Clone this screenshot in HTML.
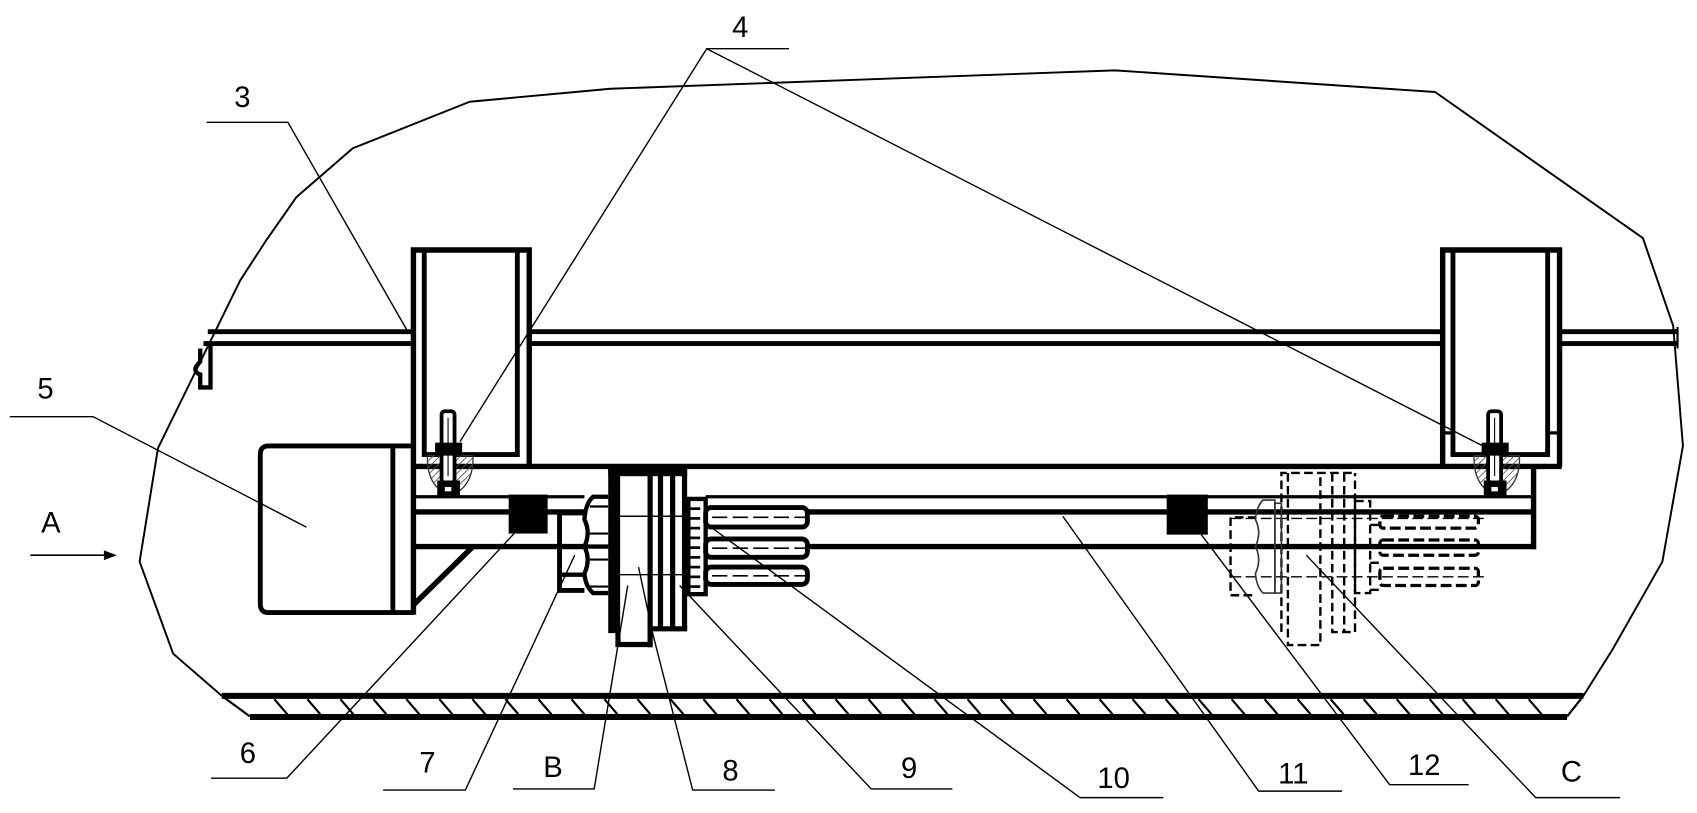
<!DOCTYPE html>
<html>
<head>
<meta charset="utf-8">
<style>
html,body{margin:0;padding:0;background:#fff;}
svg{display:block;}
text{font-family:"Liberation Sans","DejaVu Sans",sans-serif;font-size:27px;fill:#000;text-anchor:middle;}
</style>
</head>
<body>
<svg width="1697" height="813" viewBox="0 0 1568 751.2" preserveAspectRatio="none" xmlns="http://www.w3.org/2000/svg">
<defs>
<pattern id="hp" width="4.5" height="4.5" patternUnits="userSpaceOnUse" patternTransform="rotate(45)">
<line x1="0" y1="0" x2="0" y2="4.5" stroke="#555" stroke-width="1.6"/>
</pattern>
<g id="bolt">
<path d="M395 421 H437 Q438 450 416 458 Q394 450 395 421 Z" fill="url(#hp)" stroke="#333" stroke-width="1.2"/>
<rect x="408" y="380" width="12" height="66" rx="3" fill="#fff" stroke="#000" stroke-width="3.5"/>
<line x1="414" y1="386" x2="414" y2="440" stroke="#000" stroke-width="1"/>
<rect x="402" y="409" width="25" height="12" fill="#000"/>
<rect x="404" y="444" width="21" height="14" fill="#000"/>
<rect x="411" y="450" width="6" height="4" fill="#fff"/>
</g>
</defs>

<!-- outer blob -->
<polyline fill="none" stroke="#000" stroke-width="1.8" stroke-linejoin="round"
 points="205,643 160,604 129,519 146,414 222,259 246,222 274,182 326,137 434,94 564,82 1030,65 1326,85 1518,220 1546,301 1555,412 1536,519 1490,600 1463,643"/>

<g fill="none" stroke="#000">
<!-- top beam -->
<g stroke-width="4.5">
<line x1="192" y1="306.5" x2="382" y2="306.5"/>
<line x1="188" y1="317.5" x2="382" y2="317.5"/>
<line x1="489" y1="306.5" x2="1333" y2="306.5"/>
<line x1="489" y1="317.5" x2="1333" y2="317.5"/>
<line x1="1441" y1="306.5" x2="1550" y2="306.5"/>
<line x1="1441" y1="317.5" x2="1550" y2="317.5"/>
</g>
<line x1="1550" y1="302" x2="1550" y2="322" stroke-width="2"/>
<!-- hook at left end -->
<path d="M194.5 319 V358 H185 V346 Q179 344 181 339 L185 334 V322" stroke-width="4"/>

<!-- left channel box -->
<path d="M382 568 V231 H489 V431" stroke-width="5"/>
<path d="M392 233 V420 H478 V233" stroke-width="4.5"/>
<!-- right channel box -->
<path d="M1333 431 V231 H1441 V431" stroke-width="5"/>
<path d="M1342.5 233 V420 H1430 V233" stroke-width="4.5"/>
<line x1="1333" y1="400" x2="1342" y2="400" stroke-width="3"/>
<line x1="1430" y1="400" x2="1441" y2="400" stroke-width="3"/>

<!-- frame lines -->
<line x1="380" y1="431" x2="1443" y2="431" stroke-width="5"/>
<line x1="382" y1="459" x2="540" y2="459" stroke-width="3"/>
<line x1="652" y1="459" x2="1417" y2="459" stroke-width="3"/>
<line x1="382" y1="473" x2="540" y2="473" stroke-width="5"/>
<line x1="652" y1="473" x2="1417" y2="473" stroke-width="5"/>
<line x1="382" y1="505" x2="562" y2="505" stroke-width="5"/>
<line x1="745" y1="505" x2="1419" y2="505" stroke-width="5"/>
<line x1="1417" y1="429" x2="1417" y2="507.5" stroke-width="5"/>
<line x1="382" y1="559" x2="437" y2="505" stroke-width="5"/>

<!-- motor -->
<path d="M382 412 H248 Q240.5 412 240.5 420 V558 Q240.5 566 248 566 H382" stroke-width="4.5"/>
<line x1="363" y1="412" x2="363" y2="566" stroke-width="4.5"/>
</g>

<!-- blocks 6 and 12 -->
<rect x="470" y="457" width="36" height="36" fill="#000"/>
<rect x="1078" y="457" width="38" height="37" fill="#000"/>

<!-- bolts in boxes -->
<use href="#bolt"/>
<use href="#bolt" x="967"/>

<!-- center flange assembly -->
<g fill="none" stroke="#000">
<path d="M540 474 H517 V545.5 H540" stroke-width="4.5"/>
<line x1="517" y1="531" x2="540" y2="531" stroke-width="4"/>
<path d="M562 459 H548 Q541 465 540 480 Q546 492 540 505 Q546 517 540 530 Q541 542 548 548 H562" fill="#fff" stroke-width="4"/>
<g stroke-width="2">
<line x1="545" y1="468" x2="562" y2="468"/>
<line x1="545" y1="493" x2="562" y2="493"/>
<line x1="545" y1="517" x2="562" y2="517"/>
<line x1="545" y1="542" x2="562" y2="542"/>
</g>
<line x1="540" y1="505" x2="562" y2="505" stroke-width="4"/>
</g>
<rect x="562" y="429" width="11" height="156" fill="#000"/>
<rect x="562" y="429" width="73" height="11" fill="#000"/>
<g fill="none" stroke="#000" stroke-width="4.8">
<line x1="600.7" y1="438" x2="600.7" y2="598"/>
<line x1="610.3" y1="438" x2="610.3" y2="581"/>
<line x1="621.5" y1="438" x2="621.5" y2="581"/>
<line x1="632.5" y1="438" x2="632.5" y2="581"/>
<line x1="600" y1="581" x2="635" y2="581"/>
<path d="M571 583 V595.5 H603"/>
</g>
<g stroke="#000" stroke-width="1.3">
<line x1="573" y1="477" x2="636" y2="477"/>
<line x1="573" y1="531" x2="636" y2="531"/>
</g>
<!-- bolt heads -->
<rect x="636" y="461" width="16" height="88" fill="#fff" stroke="#000" stroke-width="4"/>
<g stroke="#000" stroke-width="2.5">
<line x1="636" y1="470" x2="647" y2="470"/>
<line x1="636" y1="479" x2="647" y2="479"/>
<line x1="636" y1="488" x2="647" y2="488"/>
<line x1="636" y1="497" x2="647" y2="497"/>
<line x1="636" y1="506" x2="647" y2="506"/>
<line x1="636" y1="515" x2="647" y2="515"/>
<line x1="636" y1="524" x2="647" y2="524"/>
<line x1="636" y1="533" x2="647" y2="533"/>
<line x1="636" y1="542" x2="647" y2="542"/>
</g>
<!-- bolts -->
<g fill="#fff" stroke="#000" stroke-width="4.5">
<rect x="652" y="469" width="94" height="18" rx="5"/>
<rect x="652" y="498" width="94" height="17" rx="5"/>
<rect x="652" y="524" width="94" height="16" rx="5"/>
</g>
<g stroke="#000" stroke-width="1.5" stroke-dasharray="14 5">
<line x1="658" y1="478" x2="753" y2="478"/>
<line x1="658" y1="506.5" x2="753" y2="506.5"/>
<line x1="658" y1="532" x2="753" y2="532"/>
</g>

<!-- right dashed assembly -->
<g fill="none" stroke="#000" stroke-width="2.2" stroke-dasharray="8 4">
<path d="M1161 478 H1137 V550 H1161"/>
<path d="M1184 584 V437 H1252"/>
<path d="M1190 437 V596 H1220 V437"/>
<path d="M1231 437 V584 H1252 V437"/>
<line x1="1242" y1="437" x2="1242" y2="584"/>
<rect x="1252" y="463" width="14" height="85"/>
<line x1="1266" y1="485" x2="1275" y2="485"/>
<line x1="1266" y1="520" x2="1275" y2="520"/>
<line x1="1266" y1="545" x2="1275" y2="545"/>
</g>
<g fill="none" stroke="#000" stroke-width="3" stroke-dasharray="10 4">
<rect x="1275" y="477" width="91" height="11" rx="3"/>
<rect x="1275" y="499" width="91" height="14" rx="3"/>
<rect x="1275" y="525" width="91" height="16" rx="3"/>
</g>
<g fill="none" stroke="#000" stroke-width="1.3" stroke-dasharray="10 4">
<line x1="1137" y1="479" x2="1373" y2="479"/>
<line x1="1137" y1="533" x2="1373" y2="533"/>
</g>
<g fill="none" stroke="#333" stroke-width="1.5">
<path d="M1178 462 H1167 Q1161 468 1160 480 Q1166 492 1160 505 Q1166 517 1160 530 Q1161 542 1167 548 H1178 Z"/>
<rect x="1178" y="465" width="6" height="83"/>
</g>

<!-- floor -->
<g stroke="#000" fill="none">
<line x1="205" y1="643" x2="1463" y2="643" stroke-width="5.5"/>
<line x1="231" y1="662.5" x2="1448" y2="662.5" stroke-width="5.5"/>
<line x1="205" y1="643" x2="231" y2="662" stroke-width="2"/>
<line x1="1463" y1="643" x2="1448" y2="662" stroke-width="2"/>
<path stroke-width="2" d="M253.5 646l12 14M284 646l12 14M314.5 646l12 14M345 646l12 14M375.5 646l12 14M406 646l12 14M436.5 646l12 14M467 646l12 14M497.5 646l12 14M528 646l12 14M558.5 646l12 14M589 646l12 14M619.5 646l12 14M650 646l12 14M680.5 646l12 14M711 646l12 14M741.5 646l12 14M772 646l12 14M802.5 646l12 14M833 646l12 14M863.5 646l12 14M894 646l12 14M924.5 646l12 14M955 646l12 14M985.5 646l12 14M1016 646l12 14M1046.5 646l12 14M1077 646l12 14M1107.5 646l12 14M1138 646l12 14M1168.5 646l12 14M1199 646l12 14M1229.5 646l12 14M1260 646l12 14M1290.5 646l12 14M1321 646l12 14M1351.5 646l12 14M1382 646l12 14M1412.5 646l12 14"/>
</g>

<!-- leader lines -->
<g stroke="#000" stroke-width="1.3" fill="none">
<polyline points="729,45 653,45 425,408"/>
<line x1="653" y1="45" x2="1370" y2="412"/>
<polyline points="191,113 266,113 376,305"/>
<polyline points="9,385 86,385 283,487"/>
<polyline points="195,719 265,719 475,493"/>
<polyline points="354,730 430,730 531,513"/>
<polyline points="474,729 549,729 571,596 580,541"/>
<polyline points="716,730 640,730 603,585 590,524"/>
<polyline points="880,729 805,729 628,541"/>
<polyline points="1075,737 998,737 650,482"/>
<polyline points="1240,731 1163,731 982,477"/>
<polyline points="1357,725 1284,725 1110,494"/>
<polyline points="1497,737 1419,737 1207,513"/>
</g>

<!-- A arrow -->
<line x1="28" y1="513" x2="100" y2="513" stroke="#000" stroke-width="1.5"/>
<polygon points="108,513 96,508.5 96,517.5" fill="#000"/>

<!-- labels -->
<text x="684" y="34">4</text>
<text x="224" y="99">3</text>
<text x="42" y="368">5</text>
<text x="47" y="492">A</text>
<text x="229" y="705">6</text>
<text x="395" y="714">7</text>
<text x="511" y="718">B</text>
<text x="675" y="721">8</text>
<text x="840" y="719">9</text>
<text x="1029" y="728">10</text>
<text x="1195" y="724">11</text>
<text x="1316" y="716">12</text>
<text x="1452" y="722">C</text>
</svg>
</body>
</html>
